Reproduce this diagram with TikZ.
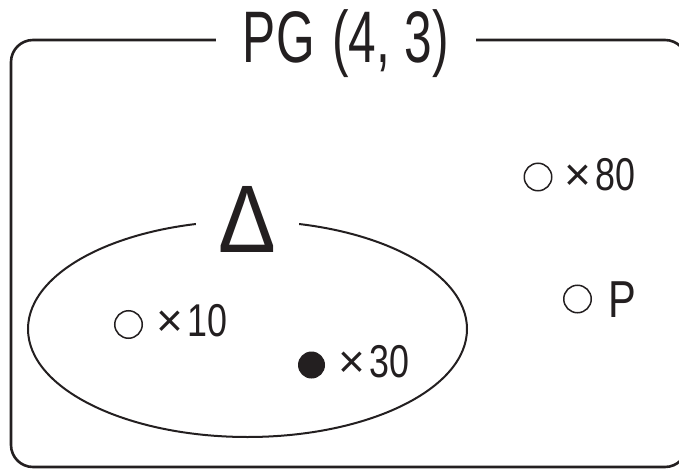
\documentclass[tikz,border=0pt]{standalone}
\usepackage{fontspec}
\setmainfont{Liberation Sans}
\usetikzlibrary{shapes.geometric}
\definecolor{ink}{RGB}{35,31,32}
\newcommand{\cnd}[2][0.78]{\scalebox{#1}[1]{#2}}
\begin{document}
\begin{tikzpicture}[x=1pt,y=-1pt,
  every node/.style={text=ink},
  frame/.style={draw=ink, line width=2.6pt, rounded corners=22pt},
  oval/.style={ellipse, draw=ink, line width=2pt, inner sep=0pt},
  hole/.style={circle, draw=ink, line width=1.5pt, minimum size=27.5pt, inner sep=0pt},
  full/.style={circle, fill=ink, minimum size=27pt, inner sep=0pt},
  lbl/.style={inner sep=0pt, anchor=base west, font=\fontsize{46}{46}\selectfont},
]
\useasboundingbox (0,0) rectangle (679,468);
\draw[frame] (11,40) rectangle (687,467);
\node[fill=white, inner xsep=27pt, inner ysep=2pt, anchor=base,
      font=\fontsize{73}{73}\selectfont] (title) at (346,63)
      {\cnd[0.68]{PG\hspace{0.35em}(4,\hspace{0.3em}3)}};
\node[oval, minimum width=439pt, minimum height=216pt] (set) at (247.5,329) {};
\node[fill=white, inner xsep=23pt, inner ysep=0pt, anchor=base,
      font=\fontsize{96}{96}\selectfont] (delta) at (247.5,252) {\cnd[0.9]{Δ}};
% inside the oval
\node[hole] (c1) at (128.5,324.5) {};
\node[lbl] (t1) at (156,336) {×\hspace{4pt}\cnd{10}};
\node[full] (c2) at (311.5,365) {};
\node[lbl] (t2) at (338,377) {×\hspace{4pt}\cnd{30}};
% outside
\node[hole] (c3) at (538,177) {};
\node[lbl] (t3) at (564,190) {×\hspace{4pt}\cnd{80}};
\node[hole] (c4) at (577.5,299) {};
\node[lbl, font=\fontsize{52}{52}\selectfont] (t4) at (608,317) {\cnd[0.8]{P}};
\end{tikzpicture}
\end{document}
